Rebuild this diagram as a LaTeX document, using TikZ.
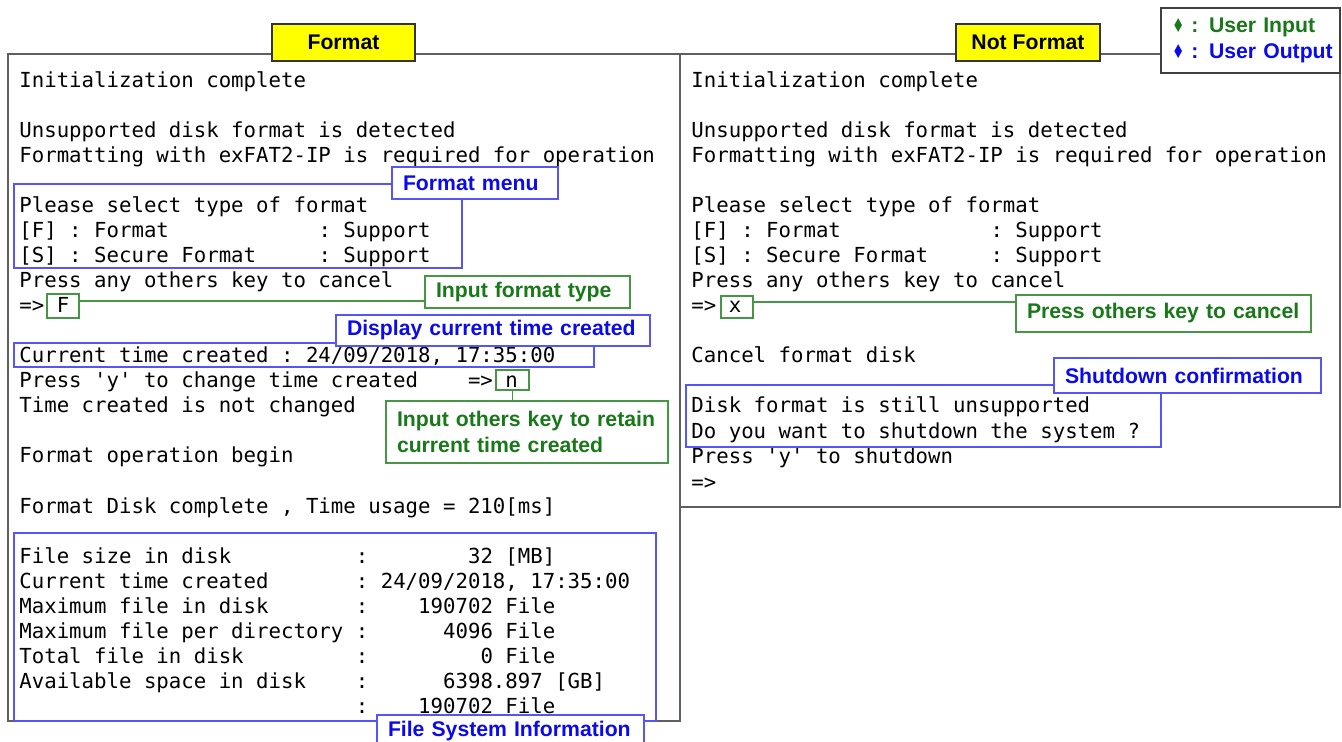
\documentclass[tikz,border=0pt]{standalone}
\usepackage{fontspec}
\setmonofont{DejaVu Sans Mono}
\newfontfamily\labfont{Liberation Sans}
\newfontfamily\symfont{DejaVu Sans}
\definecolor{framegray}{RGB}{95,95,95}
\definecolor{ublue}{RGB}{10,10,235}
\definecolor{ubluebox}{RGB}{85,85,250}
\definecolor{ugreen}{RGB}{25,120,25}
\definecolor{ugreenbox}{RGB}{70,150,70}
\definecolor{tagyellow}{RGB}{255,255,0}
% run of blank character cells in the terminal font
\newcommand\sk[1]{\kern#1\fontdimen2\font}
\newcommand\dmd{\scalebox{0.65}[0.9]{\symfont ♦}}

\tikzset{
  term/.style={font=\ttfamily\fontsize{10.35pt}{12.5pt}\selectfont\frenchspacing,
               anchor=base west, inner sep=0pt},
  panel/.style={draw=framegray, line width=0.8pt},
  box/.style 2 args={minimum width=#1*0.5pt, minimum height=#2*0.5pt, inner sep=0pt},
  lw/.style 2 args={text width=(#1-22)*0.5pt, minimum height=#2*0.5pt},
  outbox/.style={draw=ubluebox, line width=0.75pt},
  inbox/.style={draw=ugreenbox, line width=0.75pt},
  lbl/.style={font=\labfont\bfseries\fontsize{10.6pt}{13pt}\selectfont, fill=white,
              line width=0.75pt, align=left, inner ysep=0pt, inner xsep=5.5pt},
  outlbl/.style={lbl, draw=ubluebox, text=ublue},
  inlbl/.style={lbl, draw=ugreenbox, text=ugreen},
  tag/.style={font=\labfont\bfseries\fontsize{10.6pt}{13pt}\selectfont, fill=tagyellow,
              draw=black!80, line width=0.6pt},
  link/.style={draw=ugreenbox, line width=0.75pt}
}

\begin{document}
\begin{tikzpicture}[x=0.5pt,y=-0.5pt]
\clip (0,0) rectangle (1342,742);
\fill[white] (0,0) rectangle (1342,742);

% terminal panels
\draw[panel] (8,54) rectangle (680,721);
\draw[panel] (680,54) rectangle (1340,507);

% ---- left terminal: format session ----
\node[term] (l1)  at (19,88)  {Initialization complete};
\node[term] (l2)  at (19,138) {Unsupported disk format is detected};
\node[term] (l3)  at (19,163) {Formatting with exFAT2-IP is required for operation};
\node[term] (l4)  at (19,213) {Please select type of format};
\node[term] (l5)  at (19,238) {[F] : Format\sk{12}: Support};
\node[term] (l6)  at (19,263) {[S] : Secure Format\sk{5}: Support};
\node[term] (l7)  at (19,288) {Press any others key to cancel};
\node[term] (l8)  at (19,313) {=> F};
\node[term] (l9)  at (19,363) {Current time created : 24/09/2018, 17:35:00};
\node[term] (l10) at (19,388) {Press 'y' to change time created\sk{4}=> n};
\node[term] (l11) at (19,413) {Time created is not changed};
\node[term] (l12) at (19,463) {Format operation begin};
\node[term] (l13) at (19,513) {Format Disk complete , Time usage = 210[ms]};
\node[term] (l14) at (19,563) {File size in disk\sk{10}:\sk{8}32 [MB]};
\node[term] (l15) at (19,588) {Current time created\sk{7}: 24/09/2018, 17:35:00};
\node[term] (l16) at (19,613) {Maximum file in disk\sk{7}:\sk{4}190702 File};
\node[term] (l17) at (19,638) {Maximum file per directory :\sk{6}4096 File};
\node[term] (l18) at (19,663) {Total file in disk\sk{9}:\sk{9}0 File};
\node[term] (l19) at (19,688) {Available space in disk\sk{4}:\sk{6}6398.897 [GB]};
\node[term] (l20) at (19,713) {\sk{27}:\sk{4}190702 File};

% ---- right terminal: cancelled format ----
\node[term] (r1)  at (691,88)  {Initialization complete};
\node[term] (r2)  at (691,138) {Unsupported disk format is detected};
\node[term] (r3)  at (691,163) {Formatting with exFAT2-IP is required for operation};
\node[term] (r4)  at (691,213) {Please select type of format};
\node[term] (r5)  at (691,238) {[F] : Format\sk{12}: Support};
\node[term] (r6)  at (691,263) {[S] : Secure Format\sk{5}: Support};
\node[term] (r7)  at (691,288) {Press any others key to cancel};
\node[term] (r8)  at (691,313) {=> x};
\node[term] (r9)  at (691,363) {Cancel format disk};
\node[term] (r10) at (691,413) {Disk format is still unsupported};
\node[term] (r11) at (691,438) {Do you want to shutdown the system ?};
\node[term] (r12) at (691,464) {Press 'y' to shutdown};
\node[term] (r13) at (691,489) {=>};

% ---- highlight frames ----
\node[outbox, box={448}{84}]  (menubox) at (238,226)   {};
\node[inbox,  box={32}{24}]   (fbox)    at (63,306)    {};
\node[outbox, box={580}{24}]  (timebox) at (304,355)   {};
\node[inbox,  box={33}{20}]   (nbox)    at (512.5,380) {};
\node[outbox, box={642}{188}] (fsbox)   at (335,627)   {};
\node[inbox,  box={32}{22}]   (xbox)    at (737,307)   {};
\node[outbox, box={475}{62}]  (sdbox)   at (923.5,416) {};

% ---- annotation labels ----
\node[outlbl, lw={166}{32}]  (menulbl)   at (475,183)     {\mbox{Format menu}};
\node[inlbl,  lw={205}{32}]  (fmtinlbl)  at (527.5,292)   {\mbox{Input format type}};
\node[outlbl, lw={314}{31}]  (timelbl)   at (493,330.5)   {\mbox{Display current time created}};
\node[inlbl,  lw={282}{62}]  (retainlbl) at (527,432)     {\mbox{Input others key to retain}\\\mbox{current time created}};
\node[outlbl, lw={267}{32}]  (fslbl)     at (510.5,731)   {\mbox{File System Information}};
\node[inlbl,  lw={295}{37}]  (cancellbl) at (1163.5,313.5){\mbox{Press others key to cancel}};
\node[outlbl, lw={267}{35}]  (sdlbl)     at (1187.5,375.5){\mbox{Shutdown confirmation}};

% ---- connectors from user inputs to their labels ----
\coordinate (fy) at (0,301);
\coordinate (xy) at (0,302);
\draw[link] (fbox.east |- fy) -- (fmtinlbl.west |- fy);
\draw[link] (nbox.south) -- (nbox.south |- retainlbl.north);
\draw[link] (xbox.east |- xy) -- (cancellbl.west |- xy);

% ---- panel titles ----
\node[tag, box={143}{37}] (fmttag)    at (343.5,42.5) {Format};
\node[tag, box={144}{37}] (notfmttag) at (1028,42.5)  {Not Format};

% ---- legend ----
\node[draw=black!75, fill=white, line width=0.75pt, align=left,
      font=\labfont\bfseries\fontsize{10.6pt}{13pt}\selectfont,
      text width=78.5pt, inner xsep=5.5pt, inner ysep=0pt, minimum height=32.5pt] (legend) at (1250.5,40.5)
  {\mbox{\textcolor{ugreen}{\dmd\ : User Input}}\\\mbox{\textcolor{ublue}{\dmd\ : User Output}}};
\end{tikzpicture}
\end{document}
